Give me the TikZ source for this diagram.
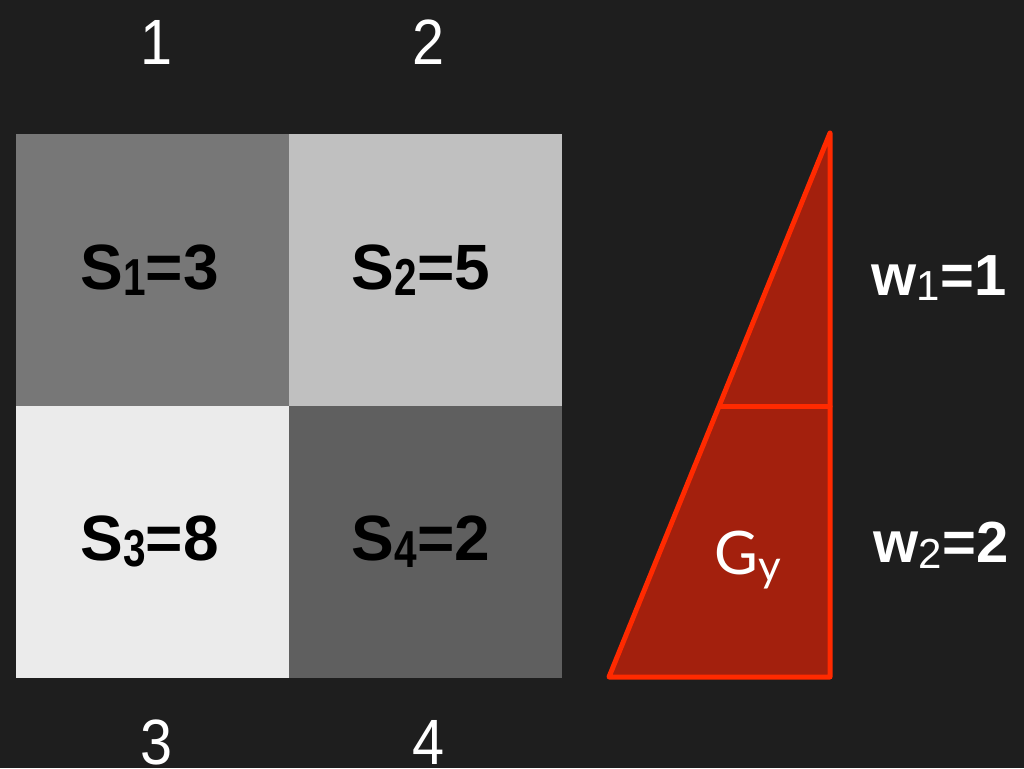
\documentclass[tikz,border=0pt]{standalone}
\usepackage{fontspec}
\setmainfont{Liberation Sans}
\newfontfamily\gyfont{Lato}
\definecolor{bg}{HTML}{1E1E1E}
\definecolor{cA}{HTML}{777777}
\definecolor{cB}{HTML}{C0C0C0}
\definecolor{cC}{HTML}{EBEBEB}
\definecolor{cD}{HTML}{5F5F5F}
\definecolor{trifill}{HTML}{A3200D}
\definecolor{triline}{HTML}{FF2A00}
\newcommand\subd[1]{\raisebox{-0.1em}{\fontsize{52}{52}\selectfont\scalebox{0.78}[1]{#1}}}
\newcommand\subw[1]{\raisebox{-0.1em}{\mdseries\fontsize{42}{42}\selectfont #1}}
\begin{document}
\begin{tikzpicture}[x=1pt,y=-1pt,
  cell/.style={inner sep=0pt,minimum width=273pt,minimum height=272pt,text=black,
    font=\bfseries\fontsize{64}{70}\selectfont},
  idx/.style={inner sep=0pt,text=white,font=\fontsize{64}{70}\selectfont},
  wlbl/.style={inner sep=0pt,text=white,font=\bfseries\fontsize{58}{62}\selectfont},
  tri/.style={draw=triline,line width=5pt,line join=round,line cap=round,fill=trifill},
  triseg/.style={draw=triline,line width=5pt,line cap=round}]
\fill[bg] (0,0) rectangle (1024,768);
\useasboundingbox (0,0) rectangle (1024,768);
% grid cells
\node[cell,fill=cA] (s1) at (152.5,270) {\hspace*{-6pt}S\subd{1}=3};
\node[cell,fill=cB] (s2) at (425,270) {\hspace*{-8pt}S\subd{2}=5};
\node[cell,fill=cC] (s3) at (152.5,541.5) {\hspace*{-6pt}S\subd{3}=8};
\node[cell,fill=cD] (s4) at (425,541.5) {\hspace*{-8pt}S\subd{4}=2};
% index labels
\node[idx] (n1) at (157,42) {\scalebox{0.9}[1]{1}};
\node[idx] (n2) at (429,42) {\scalebox{0.9}[1]{2}};
\node[idx] (n3) at (157,742) {\scalebox{0.9}[1]{3}};
\node[idx] (n4) at (429,742) {\scalebox{0.9}[1]{4}};
% triangle
\coordinate (ta) at (609,677);
\coordinate (tb) at (830,133);
\coordinate (tc) at (830,677);
\coordinate (ml) at (719.5,406);
\coordinate (mr) at (830,406);
\draw[tri] (ta) -- (tb) -- (tc) -- cycle;
\draw[triseg] (ml) -- (mr);
\node[inner sep=0pt,text=white,font=\gyfont\fontsize{60}{64}\selectfont] (gy) at (748,560)
  {G\raisebox{-0.12em}{\fontsize{44}{44}\selectfont y}};
% weights
\node[wlbl] (w1) at (939,278) {w\subw{1}=1};
\node[wlbl] (w2) at (941,545) {w\subw{2}=2};
\end{tikzpicture}
\end{document}
